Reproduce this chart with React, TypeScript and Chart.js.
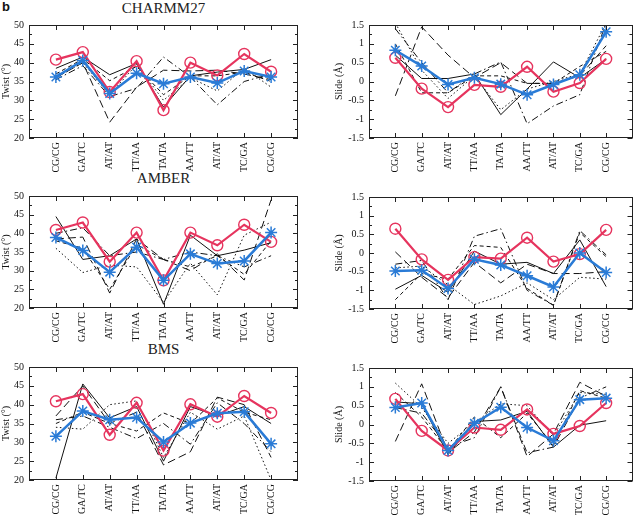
import React, { useEffect, useRef } from "react";
import { Chart, registerables } from "chart.js";
Chart.register(...registerables);

const categories = ["CG/CG", "GA/TC", "AT/AT", "TT/AA", "TA/TA", "AA/TT", "AT/AT", "TC/GA", "CG/CG"];
const twistTicks = [20, 25, 30, 35, 40, 45, 50];
const slideTicks = [-1.5, -1, -0.5, 0, 0.5, 1, 1.5];
const titles = ["CHARMM27", "AMBER", "BMS"];

// CHARMM27 twist
const red1 = [40.8, 42.8, 32.2, 40.4, 27.4, 40.0, 36.6, 42.3, 37.6];
const blue1 = [36.2, 40.6, 31.8, 37.2, 34.4, 36.2, 34.6, 37.8, 36.2];
const solid1 = [38.5, 41.5, 36.8, 39.8, 28.2, 36.5, 37.5, 38.2, 40.8];
const longDash1 = [36.0, 40.0, 24.2, 33.5, 38.0, 37.8, 38.0, 37.0, 35.5];
const shortDash1 = [37.0, 41.0, 35.2, 39.0, 31.5, 36.5, 36.5, 37.5, 35.0];
const dashDot1 = [35.5, 39.2, 31.0, 33.2, 41.5, 36.2, 28.8, 35.0, 37.0];
const dotted1 = [36.0, 40.0, 31.5, 39.5, 30.0, 36.0, 32.5, 38.5, 33.5];

// CHARMM27 slide
const red2 = [0.63, -0.19, -0.68, -0.09, -0.14, 0.39, -0.27, -0.04, 0.6];
const blue2 = [0.83, 0.41, -0.08, 0.1, -0.07, -0.35, -0.08, 0.18, 1.32];
const solid2 = [0.7, 0.08, 0.08, 0.2, -0.88, -0.2, 0.52, 0.1, 0.6];
const longDash2 = [-0.38, 1.45, 0.7, 0.1, 0.5, -0.05, -0.05, 0.15, 0.95];
const shortDash2 = [1.0, -0.3, -0.3, 0.15, 0.15, -0.05, -0.05, 0.4, 0.8];
const dashDot2 = [1.4, 0.5, -0.3, 0.2, 0.52, -1.12, -0.65, -0.35, 1.55];
const dotted2 = [1.55, 0.3, -0.45, 0.15, -0.75, -0.2, 0.0, 0.2, 1.55];

// AMBER twist
const red3 = [40.9, 42.9, 32.4, 40.2, 27.4, 40.2, 36.8, 42.3, 37.7];
const blue3 = [38.9, 35.4, 29.6, 36.3, 27.4, 34.5, 31.9, 32.6, 40.2];
const solid3 = [44.5, 33.0, 34.0, 38.5, 21.0, 39.5, 34.0, 35.5, 37.5];
const longDash3 = [38.5, 39.0, 24.0, 38.5, 33.0, 30.0, 34.5, 27.5, 49.0];
const shortDash3 = [38.0, 36.0, 25.0, 37.0, 33.0, 31.0, 34.0, 29.0, 38.0];
const dashDot3 = [40.0, 41.5, 34.0, 35.0, 33.0, 35.0, 34.0, 31.0, 34.0];
const dotted3 = [36.0, 29.5, 31.5, 31.0, 21.5, 32.0, 23.5, 39.5, 43.0];

// AMBER slide
const red4 = [0.65, -0.17, -0.72, -0.11, -0.15, 0.41, -0.23, -0.03, 0.62];
const blue4 = [-0.48, -0.46, -0.95, -0.17, -0.32, -0.61, -0.91, 0.0, -0.52];
const solid4 = [-0.97, -0.6, -1.05, 0.05, -0.3, -0.25, -0.55, 0.35, -0.9];
const longDash4 = [0.03, -0.65, -1.2, -0.25, -0.8, -0.3, -0.55, -0.55, -0.5];
const shortDash4 = [-1.25, -0.55, -0.7, 0.2, 0.15, -0.95, -1.4, 0.55, -0.1];
const dashDot4 = [-0.3, -0.2, -1.25, 0.45, 0.65, -1.0, -1.4, 0.6, -0.05];
const dotted4 = [-0.4, -0.35, -0.85, -1.38, -1.15, -0.8, -1.25, -0.65, -0.7];

// BMS twist
const red5 = [40.9, 42.8, 32.0, 40.5, 27.8, 40.1, 36.8, 42.3, 37.8];
const blue5 = [31.6, 38.3, 36.0, 36.6, 30.1, 35.1, 37.7, 38.1, 29.6];
const solid5 = [20.5, 45.5, 36.5, 39.5, 25.0, 39.5, 37.0, 39.5, 35.0];
const longDash5 = [37.0, 45.0, 35.0, 38.0, 24.0, 27.5, 42.0, 40.0, 26.0];
const shortDash5 = [35.0, 38.0, 35.0, 33.0, 37.8, 35.0, 41.8, 38.0, 36.0];
const dashDot5 = [36.0, 37.0, 34.0, 31.0, 35.0, 29.5, 40.5, 35.0, 27.5];
const dotted5 = [34.0, 33.5, 40.0, 41.0, 26.0, 38.0, 33.5, 37.0, 20.0];

// BMS slide
const red6 = [0.68, -0.17, -0.69, -0.08, -0.14, 0.4, -0.25, -0.04, 0.57];
const blue6 = [0.45, 0.57, -0.69, 0.03, 0.46, -0.08, -0.43, 0.66, 0.7];
const solid6 = [0.6, 0.55, -0.8, 0.08, 0.12, 0.35, -0.6, -0.02, 0.1];
const longDash6 = [-0.45, 1.08, -0.75, -0.2, 1.0, -0.85, -0.25, 1.12, 0.75];
const shortDash6 = [0.85, 0.2, -0.7, 0.2, -0.35, 0.3, -0.55, 0.9, 0.7];
const dashDot6 = [0.45, 0.3, -0.6, -0.35, 1.0, -0.75, -0.6, 0.7, 1.0];
const dotted6 = [1.1, 0.45, -0.5, 0.05, 0.55, 0.5, -0.3, 0.85, 0.8];

const FONT = "'Liberation Serif', 'Times New Roman', serif";
const RED = "#e6345e";
const BLUE = "#2a7bd6";
const BLACK = "#111111";

const blackStyles = [[], [8, 4], [4, 3], [7, 3, 1.5, 3], [1.5, 2.5]];

type PanelDef = {
  kind: "twist" | "slide";
  col: 0 | 1;
  plotTop: number;
  plotBottom: number;
  red: number[];
  blue: number[];
  blacks: number[][];
};

const panels: PanelDef[] = [
  { kind: "twist", col: 0, plotTop: 22, plotBottom: 138, red: red1, blue: blue1, blacks: [solid1, longDash1, shortDash1, dashDot1, dotted1] },
  { kind: "slide", col: 1, plotTop: 22, plotBottom: 138, red: red2, blue: blue2, blacks: [solid2, longDash2, shortDash2, dashDot2, dotted2] },
  { kind: "twist", col: 0, plotTop: 193, plotBottom: 308, red: red3, blue: blue3, blacks: [solid3, longDash3, shortDash3, dashDot3, dotted3] },
  { kind: "slide", col: 1, plotTop: 194, plotBottom: 309, red: red4, blue: blue4, blacks: [solid4, longDash4, shortDash4, dashDot4, dotted4] },
  { kind: "twist", col: 0, plotTop: 364, plotBottom: 480, red: red5, blue: blue5, blacks: [solid5, longDash5, shortDash5, dashDot5, dotted5] },
  { kind: "slide", col: 1, plotTop: 365, plotBottom: 481, red: red6, blue: blue6, blacks: [solid6, longDash6, shortDash6, dashDot6, dotted6] },
];

const toPoints = (arr: number[]) => arr.map((v, i) => ({ x: i + 1, y: v }));

const framePlugin = {
  id: "frame",
  afterDatasetsDraw(chart: any) {
    const { ctx, chartArea: a, scales } = chart;
    const xs = scales.x;
    const ys = scales.y;
    const tv: number[] = ys.ticks.map((t: any) => t.value);
    ctx.save();
    ctx.strokeStyle = "#222";
    ctx.lineWidth = 1;
    ctx.setLineDash([]);
    const line = (x1: number, y1: number, x2: number, y2: number) => {
      ctx.beginPath();
      ctx.moveTo(x1, y1);
      ctx.lineTo(x2, y2);
      ctx.stroke();
    };
    ctx.strokeRect(Math.round(a.left) + 0.5, Math.round(a.top) + 0.5, Math.round(a.right - a.left) - 1, Math.round(a.bottom - a.top) - 1);
    for (let i = 0; i < tv.length; i++) {
      const py = Math.round(ys.getPixelForValue(tv[i])) + 0.5;
      line(a.left, py, a.left + 5, py);
      line(a.right, py, a.right - 5, py);
      if (i < tv.length - 1) {
        const pm = Math.round(ys.getPixelForValue((tv[i] + tv[i + 1]) / 2)) + 0.5;
        line(a.left, pm, a.left + 3, pm);
        line(a.right, pm, a.right - 3, pm);
      }
    }
    for (let i = 1; i <= categories.length; i++) {
      const px = Math.round(xs.getPixelForValue(i)) + 0.5;
      line(px, a.bottom, px, a.bottom - 5);
      line(px, a.top, px, a.top + 5);
    }
    ctx.restore();
  },
};

function Panel({ def }: { def: PanelDef }) {
  const ref = useRef<HTMLCanvasElement>(null);
  const left = def.col === 0 ? 0 : 320;
  const top = def.plotTop - 8;
  const height = def.plotBottom - def.plotTop + 8 + 37;
  const width = 320;

  useEffect(() => {
    if (!ref.current) return;
    const isTwist = def.kind === "twist";
    const yTicks = isTwist ? twistTicks : slideTicks;
    const blackSets = def.blacks.map((arr, k) => ({
      data: toPoints(arr),
      borderColor: BLACK,
      borderWidth: 1,
      borderDash: blackStyles[k],
      pointRadius: 0,
      fill: false,
      tension: 0,
      order: 3,
    }));
    const chart = new Chart(ref.current, {
      type: "line",
      data: {
        datasets: [
          {
            data: toPoints(def.blue),
            borderColor: BLUE,
            borderWidth: 2.5,
            pointStyle: "star",
            pointRadius: 6,
            pointBorderWidth: 1.5,
            pointBorderColor: BLUE,
            pointBackgroundColor: BLUE,
            order: 0,
          },
          {
            data: toPoints(def.red),
            borderColor: RED,
            borderWidth: 2.2,
            pointStyle: "circle",
            pointRadius: 5.5,
            pointBorderWidth: 1.4,
            pointBorderColor: RED,
            pointBackgroundColor: "rgba(0,0,0,0)",
            order: 1,
          },
          ...blackSets,
        ] as any,
      },
      options: {
        responsive: false,
        animation: false,
        devicePixelRatio: 1,
        events: [],
        layout: {
          padding: def.col === 0 ? { top: 8, left: 0, right: 22, bottom: 0 } : { top: 8, left: 13, right: 5, bottom: 0 },
        },
        plugins: { legend: { display: false }, tooltip: { enabled: false } },
        scales: {
          x: {
            type: "linear",
            min: 0,
            max: 10,
            grid: { display: false, drawTicks: false },
            border: { display: false },
            afterBuildTicks: (s: any) => {
              s.ticks = categories.map((_, i) => ({ value: i + 1 }));
            },
            afterFit: (s: any) => {
              s.height = 37;
            },
            ticks: {
              autoSkip: false,
              minRotation: 90,
              maxRotation: 90,
              padding: 4,
              color: "#111",
              font: { family: FONT, size: 10 },
              callback: (v: any) => categories[Math.round(v) - 1] ?? "",
            },
          },
          y: {
            type: "linear",
            min: yTicks[0],
            max: yTicks[yTicks.length - 1],
            grid: { display: false, drawTicks: false },
            border: { display: false },
            afterBuildTicks: (s: any) => {
              s.ticks = yTicks.map((v) => ({ value: v }));
            },
            afterFit: (s: any) => {
              s.width = def.col === 0 ? 29 : 36;
            },
            ticks: {
              padding: 5,
              color: "#111",
              font: { family: FONT, size: 10 },
              callback: (v: any) => String(v),
            },
            title: {
              display: true,
              text: isTwist ? "Twist (°)" : "Slide (Å)",
              padding: 0,
              color: "#111",
              font: { family: FONT, size: 10 },
            },
          },
        },
      } as any,
      plugins: [framePlugin],
    });
    return () => chart.destroy();
  }, [def]);

  return (
    <canvas
      ref={ref}
      width={width}
      height={height}
      style={{ position: "absolute", left, top, width, height }}
    />
  );
}

export default function App() {
  const titleTops = [0, 170, 341];
  return (
    <div
      style={{
        position: "fixed",
        left: 0,
        top: 0,
        width: 640,
        height: 515,
        background: "#fff",
        overflow: "hidden",
      }}
    >
      <div
        style={{
          position: "absolute",
          left: 2,
          top: -1,
          fontFamily: "'Liberation Sans', Arial, sans-serif",
          fontWeight: "bold",
          fontSize: 13,
          color: "#111",
        }}
      >
        b
      </div>
      {titles.map((t, i) => (
        <div
          key={i}
          style={{
            position: "absolute",
            left: 29,
            width: 269,
            top: titleTops[i],
            textAlign: "center",
            fontFamily: FONT,
            fontSize: 15,
            lineHeight: "17px",
            color: "#222",
          }}
        >
          {t}
        </div>
      ))}
      {panels.map((p, i) => (
        <Panel key={i} def={p} />
      ))}
    </div>
  );
}
